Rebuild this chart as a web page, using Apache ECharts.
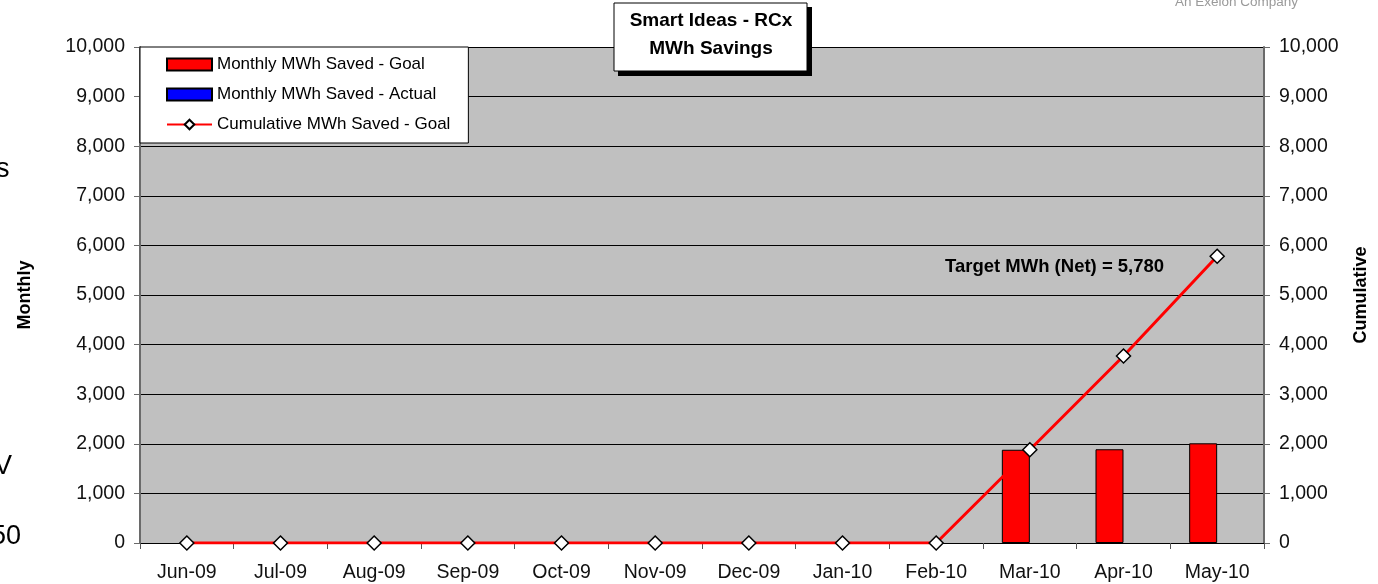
<!DOCTYPE html>
<html>
<head>
<meta charset="utf-8">
<script src="https://cdn.jsdelivr.net/npm/echarts@6/dist/echarts.min.js"></script>
<style>
html,body{margin:0;padding:0;background:#fff;}
#chart{width:1378px;height:584px;}
</style>
</head>
<body>
<div id="chart"></div>
<script>
const categories = ['Jun-09','Jul-09','Aug-09','Sep-09','Oct-09','Nov-09','Dec-09','Jan-10','Feb-10','Mar-10','Apr-10','May-10'];
const monthlyGoal = ['-','-','-','-','-','-','-','-','-',1880,1890,2010];
const monthlyActual = ['-','-','-','-','-','-','-','-','-','-','-','-'];
const cumulativeGoal = [0,0,0,0,0,0,0,0,0,1880,3770,5780];
const yTicks = [0,1000,2000,3000,4000,5000,6000,7000,8000,9000,10000];

const FONT = 'Liberation Sans, Arial, sans-serif';
const chart = echarts.init(document.getElementById('chart'));
const fmt = v => v.toLocaleString('en-US');

const yAxisBase = {
  type: 'value', min: yTicks[0], max: yTicks[yTicks.length-1], interval: 1000,
  nameLocation: 'middle', nameRotate: 90,
  nameTextStyle: {fontFamily: FONT, fontSize: 18, fontWeight: 'bold', color: '#000'},
  axisLine: {show: true, lineStyle: {color: '#6a6a6a', width: 2}},
  axisTick: {show: true, length: 6, lineStyle: {color: '#6a6a6a'}},
  axisLabel: {fontFamily: FONT, fontSize: 19.5, color: '#111', formatter: fmt, margin: 15},
  splitLine: {show: false}
};

chart.setOption({
  animation: false,
  backgroundColor: '#fff',
  grid: {left: 140, right: 113, top: 47, bottom: 41, show: true, backgroundColor: '#c0c0c0', borderWidth: 0, containLabel: false},
  legend: {
    left: 140, top: 47, orient: 'vertical',
    backgroundColor: '#fff', borderColor: '#000', borderWidth: 1,
    padding: [9, 18, 10, 26], itemGap: 13, itemWidth: 45, itemHeight: 12,
    textStyle: {fontFamily: FONT, fontSize: 17, color: '#000'},
    data: [
      {name: 'Monthly MWh Saved - Goal', icon: 'rect'},
      {name: 'Monthly MWh Saved - Actual', icon: 'rect'},
      {name: 'Cumulative MWh Saved - Goal'}
    ]
  },
  xAxis: {
    type: 'category', data: categories, boundaryGap: true,
    axisLine: {lineStyle: {color: '#000', width: 1}},
    axisTick: {show: true, length: 6, lineStyle: {color: '#555'}},
    axisLabel: {fontFamily: FONT, fontSize: 19.5, color: '#111', margin: 20},
    splitLine: {show: false}
  },
  yAxis: [
    Object.assign({}, yAxisBase, {position: 'left', name: 'Monthly', nameGap: 106,
      splitLine: {show: true, lineStyle: {color: '#000', width: 1}}}),
    Object.assign({}, yAxisBase, {position: 'right', name: 'Cumulative', nameGap: 88})
  ],
  series: [
    {name: 'Monthly MWh Saved - Goal', type: 'bar', data: monthlyGoal, barWidth: 28, barGap: '0%',
      itemStyle: {color: '#ff0000', borderColor: '#000', borderWidth: 1}},
    {name: 'Monthly MWh Saved - Actual', type: 'bar', data: monthlyActual, barWidth: 28, barGap: '0%',
      itemStyle: {color: '#0000ff', borderColor: '#000', borderWidth: 1}},
    {name: 'Cumulative MWh Saved - Goal', type: 'line', yAxisIndex: 1, data: cumulativeGoal,
      symbol: 'diamond', symbolSize: 14, showAllSymbol: true,
      lineStyle: {color: '#ff0000', width: 3},
      itemStyle: {color: '#fff', borderColor: '#000', borderWidth: 1.5}, z: 5}
  ],
  graphic: [
    {type: 'rect', x: 618, y: 7, shape: {width: 194, height: 69}, style: {fill: '#000'}, z: 10},
    {type: 'rect', x: 614, y: 3, shape: {width: 193, height: 68}, style: {fill: '#fff', stroke: '#000', lineWidth: 1}, z: 11},
    {type: 'text', z: 12, style: {x: 711, y: 21, text: 'Smart Ideas - RCx', fontFamily: FONT, fontSize: 19, fontWeight: 'bold', fill: '#000', align: 'center', verticalAlign: 'middle'}},
    {type: 'text', z: 12, style: {x: 711, y: 49, text: 'MWh Savings', fontFamily: FONT, fontSize: 19, fontWeight: 'bold', fill: '#000', align: 'center', verticalAlign: 'middle'}},
    {type: 'text', z: 12, style: {x: 945, y: 267, text: 'Target MWh (Net) = 5,780', fontFamily: FONT, fontSize: 18.5, fontWeight: 'bold', fill: '#000', align: 'left', verticalAlign: 'middle'}},
    {type: 'text', z: 12, style: {x: 1298, y: 2, text: 'An Exelon Company', fontFamily: FONT, fontSize: 13.5, fill: '#9a9a9a', align: 'right', verticalAlign: 'middle'}},
    {type: 'text', z: 12, style: {x: -4, y: 170, text: 's', fontFamily: FONT, fontSize: 27, fill: '#000', align: 'left', verticalAlign: 'middle'}},
    {type: 'text', z: 12, style: {x: -6, y: 467, text: 'V', fontFamily: FONT, fontSize: 27, fill: '#000', align: 'left', verticalAlign: 'middle'}},
    {type: 'text', z: 12, style: {x: -9, y: 537, text: '50', fontFamily: FONT, fontSize: 27, fill: '#000', align: 'left', verticalAlign: 'middle'}}
  ]
});
</script>
</body>
</html>
